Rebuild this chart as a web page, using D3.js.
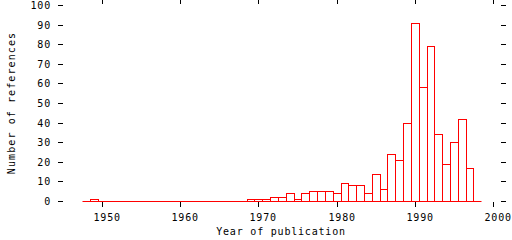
<!DOCTYPE html>
<html>
<head>
<meta charset="utf-8">
<script src="https://cdn.jsdelivr.net/npm/d3@7"></script>
<style>
  body { margin: 0; background: #fff; }
  text { font-family: "DejaVu Sans Mono", monospace; font-size: 10px; letter-spacing: 0.8px; fill: #000; }
</style>
</head>
<body>
<script>
// references per year of publication (years without a bar are 0)
var years  = [1949, 1969, 1970, 1971, 1972, 1973, 1974, 1975, 1976, 1977, 1978, 1979, 1980,
              1981, 1982, 1983, 1984, 1985, 1986, 1987, 1988, 1989, 1990, 1991, 1992,
              1993, 1994, 1995, 1996, 1997];
var counts = [1, 1, 1, 1, 2, 2, 4, 1, 4, 5, 5, 5, 4,
              9, 8, 8, 4, 14, 6, 24, 21, 40, 91, 58, 79,
              34, 19, 30, 42, 17];
var xTicks = [1950, 1960, 1970, 1980, 1990, 2000];
var yTicks = [0, 10, 20, 30, 40, 50, 60, 70, 80, 90, 100];
var yearRange = [1947.5, 1998.5];

var svg = d3.select("body").append("svg")
    .attr("width", 512)
    .attr("height", 240);

var x = d3.scaleLinear().domain([1950, 2000]).rangeRound([102, 493]),
    y = d3.scaleLinear().domain([0, 100]).rangeRound([201, 5]);

function px(v) { return Math.round(v) + 0.5; }

// bottom axis with labels
var gx = svg.append("g")
    .attr("transform", "translate(0,202)")
    .call(d3.axisBottom(x).tickValues(xTicks).tickSize(5).tickFormat(d3.format("d")));
gx.select(".domain").remove();
gx.selectAll("text")
    .attr("y", 19).attr("dy", null).attr("x", -9)
    .attr("text-anchor", "start");

// top axis, ticks only
var gt = svg.append("g")
    .attr("transform", "translate(0,4)")
    .call(d3.axisTop(x).tickValues(xTicks).tickSize(4).tickFormat(""));
gt.select(".domain").remove();

// left axis with labels
var gy = svg.append("g")
    .attr("transform", "translate(63,0)")
    .call(d3.axisLeft(y).tickValues(yTicks).tickSize(5).tickPadding(7));
gy.select(".domain").remove();

// right axis, ticks only
var gr = svg.append("g")
    .attr("transform", "translate(501,0)")
    .call(d3.axisRight(y).tickValues(yTicks).tickSize(5).tickFormat(""));
gr.select(".domain").remove();

svg.selectAll("g text")
    .attr("font-family", null)
    .attr("font-size", null);

// baseline
svg.append("line")
    .attr("x1", px(x(yearRange[0])))
    .attr("x2", px(x(yearRange[1])))
    .attr("y1", px(y(0)))
    .attr("y2", px(y(0)))
    .attr("stroke", "#ff0000")
    .attr("stroke-width", 1);

// histogram bars
svg.selectAll(".bar")
    .data(years)
    .enter().append("rect")
    .attr("class", "bar")
    .attr("x", function(d) { return px(x(d - 0.5)); })
    .attr("width", function(d) { return px(x(d + 0.5)) - px(x(d - 0.5)); })
    .attr("y", function(d, i) { return px(y(counts[i])); })
    .attr("height", function(d, i) { return px(y(0)) - px(y(counts[i])); })
    .attr("fill", "none")
    .attr("stroke", "#ff0000")
    .attr("stroke-width", 1);

// axis titles
svg.append("text")
    .attr("x", 281)
    .attr("y", 235)
    .attr("text-anchor", "middle")
    .text("Year of publication");

svg.append("text")
    .attr("transform", "translate(14.5,103) rotate(-90)")
    .attr("text-anchor", "middle")
    .style("letter-spacing", "1.1px")
    .text("Number of references");
</script>
</body>
</html>
